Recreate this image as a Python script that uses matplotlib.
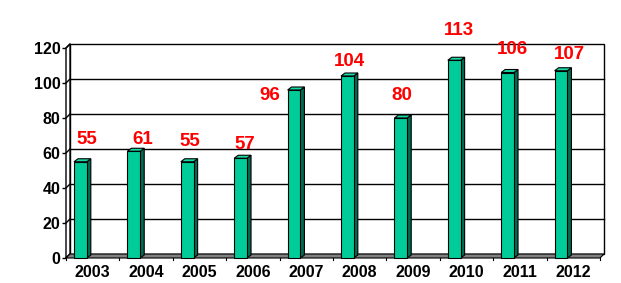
import matplotlib
matplotlib.use('Agg')
import matplotlib.pyplot as plt
from matplotlib.patches import Polygon, Rectangle

plt.rcParams['font.family'] = ['Liberation Sans', 'DejaVu Sans']

years = ['2003', '2004', '2005', '2006', '2007', '2008', '2009', '2010', '2011', '2012']
counts = [55, 61, 55, 57, 96, 104, 80, 113, 106, 107]
y_ticks = [0, 20, 40, 60, 80, 100, 120]

# label nudges in pixels (dx, dy up) - Excel put them a bit all over the place
label_nudge = [(2, 4), (5, -6), (-1, 2), (0, -4), (-28, -24), (-2, -4), (-3, 4), (1, 12), (1, 5), (4, -2)]

BAR_FACE = '#00CC99'
BAR_SIDE = '#006B4F'
BAR_TOP = '#19D9A6'
FLOOR = '#808080'

W, H = 621, 283
fig = plt.figure(figsize=(W / 100, H / 100), dpi=100)
ax = fig.add_axes([66 / W, (H - 258) / H, (600 - 66) / W, 210 / H])
ax.set_xlim(0, len(years))
ax.set_ylim(0, 120)
for s in ax.spines.values():
    s.set_visible(False)
ax.patch.set_visible(False)

px_x = len(years) / (600 - 66)   # data units per pixel
px_y = 120 / 210.0
dx, dy = 4 * px_x, 4 * px_y      # wall depth
bdx, bdy = 4 * px_x, 3 * px_y    # bar depth
n = len(years)

# back wall
ax.add_patch(Rectangle((dx, dy), n, 120, facecolor='white', edgecolor='black', lw=1, clip_on=False, zorder=1))
# left wall
ax.add_patch(Polygon([(0, 0), (dx, dy), (dx, 120 + dy), (0, 120)], closed=True,
                     facecolor='white', edgecolor='black', lw=1, clip_on=False, zorder=2))
# gridlines on back wall + left wall
for v in y_ticks[1:-1]:
    ax.plot([dx, n + dx], [v + dy, v + dy], color='black', lw=1, clip_on=False, zorder=1.5)
for v in y_ticks:
    ax.plot([0, dx], [v, v + dy], color='black', lw=1, clip_on=False, zorder=2.5)
# floor
ax.add_patch(Polygon([(0, 0), (n, 0), (n + dx, dy), (dx, dy)], closed=True,
                     facecolor=FLOOR, edgecolor='black', lw=0.8, clip_on=False, zorder=3))
for i in range(n + 1):
    ax.plot([i, i], [0, -2 * px_y], color='black', lw=0.8, clip_on=False, zorder=3)

# bars
x0s = [i + 0.15 for i in range(n)]
bw = 0.24
for x0, v in zip(x0s, counts):
    x1 = x0 + bw
    ax.add_patch(Polygon([(x1, 0), (x1 + bdx, bdy), (x1 + bdx, v + bdy), (x1, v)], closed=True,
                         facecolor=BAR_SIDE, edgecolor='black', lw=0.8, clip_on=False, zorder=4))
    ax.add_patch(Polygon([(x0, v), (x1, v), (x1 + bdx, v + bdy), (x0 + bdx, v + bdy)], closed=True,
                         facecolor=BAR_TOP, edgecolor='black', lw=0.8, clip_on=False, zorder=4))
    ax.bar(x0, v, width=bw, align='edge', color=BAR_FACE, edgecolor='black', lw=0.8,
           clip_on=False, zorder=5)

# data labels
for x0, v, (ndx, ndy) in zip(x0s, counts, label_nudge):
    ax.annotate(str(v), xy=(x0 + bw / 2 + bdx, v), xytext=(ndx * 0.72, (18 + ndy) * 0.72),
                textcoords='offset points', ha='center', va='center',
                color='#FF0000', fontsize=13.5, fontweight='bold', zorder=6, annotation_clip=False)

ax.set_yticks(y_ticks)
ax.set_yticklabels([str(v) for v in y_ticks], fontsize=11.5, fontweight='bold')
ax.tick_params(axis='y', length=3, width=1, direction='out', pad=1)
ax.set_xticks([i + 0.5 for i in range(n)])
ax.set_xticklabels(years, fontsize=11.5, fontweight='bold')
ax.tick_params(axis='x', length=0, pad=5)

fig.savefig('out.png', dpi=100)
